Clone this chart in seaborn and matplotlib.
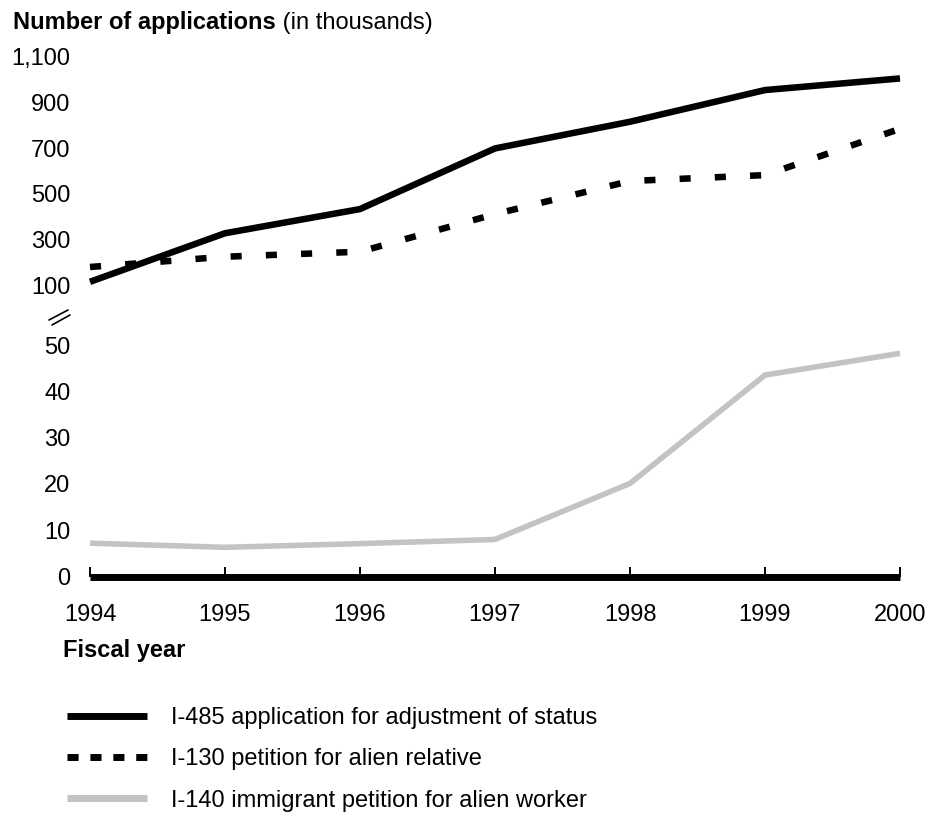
import numpy as np
import pandas as pd
import matplotlib
matplotlib.use("Agg")
import matplotlib.pyplot as plt
from matplotlib.lines import Line2D
import seaborn as sns

# ---------------------------------------------------------------------------
# Data (thousands of applications)
# ---------------------------------------------------------------------------
years = [1994, 1995, 1996, 1997, 1998, 1999, 2000]
i485 = [114, 327, 433, 699, 816, 955, 1006]
i130 = [179, 224, 246, 411, 556, 582, 785]
i140 = [7.2, 6.3, 7.1, 8.0, 20.1, 43.5, 48.2]

upper_ticks = [100, 300, 500, 700, 900, 1100]
upper_labels = ["100", "300", "500", "700", "900", "1,100"]
lower_ticks = [0, 10, 20, 30, 40, 50]

legend_labels = [
    "I-485 application for adjustment of status",
    "I-130 petition for alien relative",
    "I-140 immigrant petition for alien worker",
]

GRAY = "#c3c3c3"
FS = 17

sns.set_style("white")
plt.rcParams["font.family"] = ["Liberation Sans", "DejaVu Sans"]
plt.rcParams["text.color"] = "black"
plt.rcParams["xtick.color"] = "black"
plt.rcParams["ytick.color"] = "black"

W, H = 930, 814
fig = plt.figure(figsize=(W / 100, H / 100), dpi=100)


def px_rect(left, top, right, bottom):
    return [left / W, 1 - bottom / H, (right - left) / W, (bottom - top) / H]


ax_top = fig.add_axes(px_rect(90, 57, 900, 285))
ax_bot = fig.add_axes(px_rect(90, 345, 900, 576.5))

# ---------------------------------------------------------------------------
# Lines
# ---------------------------------------------------------------------------
sns.lineplot(x=years, y=i485, ax=ax_top, color="black", lw=4.7,
             solid_capstyle="butt", clip_on=False)
sns.lineplot(x=years, y=i130, ax=ax_top, color="black", lw=4.7,
             linestyle=(0, (1.7, 3.7)), clip_on=False)
sns.lineplot(x=years, y=i140, ax=ax_bot, color=GRAY, lw=4.0,
             solid_capstyle="butt", clip_on=False)

# ---------------------------------------------------------------------------
# Axes styling
# ---------------------------------------------------------------------------
for ax in (ax_top, ax_bot):
    ax.set_xlim(years[0], years[-1])
    for s in ax.spines.values():
        s.set_visible(False)
    ax.tick_params(axis="y", length=0, pad=14, labelsize=FS,
                   labelcolor="black")
    ax.set_xlabel("")
    ax.set_ylabel("")

ax_top.set_ylim(100, 1100)
ax_top.set_yticks(upper_ticks)
ax_top.set_yticklabels(upper_labels)
ax_top.set_xticks([])

ax_bot.set_ylim(0, 50)
ax_bot.set_yticks(lower_ticks)
ax_bot.set_xticks(years)
ax_bot.set_xticklabels([str(y) for y in years])
ax_bot.spines["bottom"].set_visible(True)
ax_bot.spines["bottom"].set_linewidth(5)
ax_bot.spines["bottom"].set_color("black")
ax_bot.spines["bottom"].set_capstyle("butt")
ax_bot.tick_params(axis="x", direction="in", length=7.5, width=1.4,
                   color="black", pad=20, labelsize=FS, labelcolor="black",
                   bottom=True)

# axis break mark
for (x0, y0, x1, y1) in [(49, 320, 68, 310), (52, 325, 70, 315)]:
    fig.add_artist(Line2D([x0 / W, x1 / W], [1 - y0 / H, 1 - y1 / H],
                          transform=fig.transFigure, color="black", lw=1.2))

# ---------------------------------------------------------------------------
# Titles
# ---------------------------------------------------------------------------
t = fig.text(13 / W, 1 - 29 / H, "Number of applications", fontsize=FS,
             fontweight="bold", va="baseline", ha="left")
fig.canvas.draw()
bb = t.get_window_extent()
fig.text(bb.x1 / W, 1 - 29 / H, " (in thousands)", fontsize=FS,
         va="baseline", ha="left")

fig.text(63 / W, 1 - 657 / H, "Fiscal year", fontsize=FS,
         fontweight="bold", va="baseline", ha="left")

# ---------------------------------------------------------------------------
# Legend
# ---------------------------------------------------------------------------
handles = [
    Line2D([], [], color="black", lw=5, solid_capstyle="butt"),
    Line2D([], [], color="black", lw=5, linestyle=(0, (1.6, 1.7))),
    Line2D([], [], color=GRAY, lw=5, solid_capstyle="butt"),
]
fig.legend(handles, legend_labels, loc="upper left",
           bbox_to_anchor=(67 / W, 1 - 707 / H), frameon=False,
           fontsize=FS, handlelength=3.4, handletextpad=1.0,
           labelspacing=0.82, borderpad=0, borderaxespad=0)

fig.savefig("out.png", dpi=100)
